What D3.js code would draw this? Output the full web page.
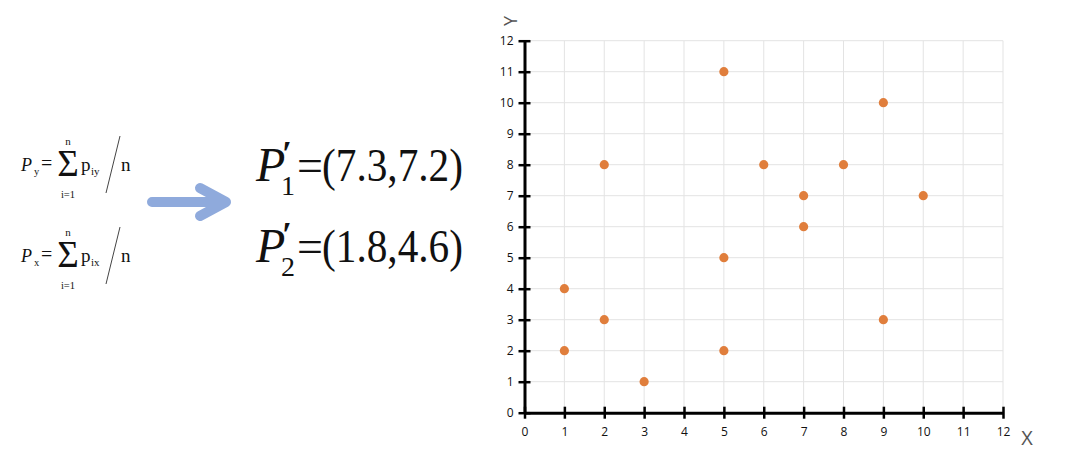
<!DOCTYPE html>
<html>
<head>
<meta charset="utf-8">
<script src="https://cdn.jsdelivr.net/npm/d3@7"></script>
<style>
  html, body { margin: 0; padding: 0; background: #fff; }
  svg { display: block; }
</style>
</head>
<body>
<svg id="chart" width="1066" height="466"></svg>
<script>
// ---- data ----
const pointsX = [1, 1, 2, 2, 3, 5, 5, 5, 6, 7, 7, 8, 9, 9, 10];
const pointsY = [2, 4, 3, 8, 1, 2, 5, 11, 8, 7, 6, 8, 10, 3, 7];
const xTicks = [0, 1, 2, 3, 4, 5, 6, 7, 8, 9, 10, 11, 12];
const yTicks = [0, 1, 2, 3, 4, 5, 6, 7, 8, 9, 10, 11, 12];
const centroidLabels = ["1", "2"];
const centroidValues = ["(7.3,7.2)", "(1.8,4.6)"];
const formulaVars = ["y", "x"];

const svg = d3.select("#chart");
const serif = "'Liberation Serif', 'Times New Roman', serif";
const sans = "'Open Sans', 'Liberation Sans', sans-serif";

// ---- left formulas ----
formulaVars.forEach((v, i) => {
  const by = 171 + i * 91;
  const g = svg.append("g").attr("font-family", serif).attr("fill", "#111");
  g.append("text").attr("x", 21).attr("y", by).attr("font-size", 18).attr("font-style", "italic").text("P");
  g.append("text").attr("x", 34).attr("y", by + 4).attr("font-size", 10.5).text(v);
  g.append("text").attr("x", 41).attr("y", by - 1).attr("font-size", 20).text("=");
  g.append("text").attr("x", 68).attr("y", by + 5).attr("font-size", 37).attr("text-anchor", "middle").text("Σ");
  g.append("text").attr("x", 68).attr("y", by - 26).attr("font-size", 11).attr("text-anchor", "middle").text("n");
  g.append("text").attr("x", 68).attr("y", by + 27).attr("font-size", 10.5).attr("text-anchor", "middle").text("i=1");
  g.append("text").attr("x", 81).attr("y", by).attr("font-size", 19).text("p");
  g.append("text").attr("x", 91).attr("y", by + 4).attr("font-size", 11).text("i" + v);
  g.append("line").attr("x1", 106).attr("y1", by + 22).attr("x2", 120).attr("y2", by - 35)
    .attr("stroke", "#444").attr("stroke-width", 1);
  g.append("text").attr("x", 121).attr("y", by).attr("font-size", 19).text("n");
});

// ---- arrow ----
svg.append("path")
  .attr("d", "M152,202 L226,202 M200,188 L226,202 L200,216")
  .attr("fill", "none")
  .attr("stroke", "#8faadc")
  .attr("stroke-width", 10)
  .attr("stroke-linecap", "round")
  .attr("stroke-linejoin", "round");

// ---- centroid formulas ----
centroidLabels.forEach((lab, i) => {
  const by = 181 + i * 81;
  const g = svg.append("g").attr("font-family", serif).attr("fill", "#111");
  g.append("text").attr("x", 256).attr("y", by).attr("font-size", 48).attr("font-style", "italic").text("P");
  g.append("text").attr("x", 282).attr("y", by - 15).attr("font-size", 36).attr("font-weight", "bold").text("′");
  g.append("text").attr("x", 281).attr("y", by + 14).attr("font-size", 28).text(lab);
  g.append("text").attr("x", 297).attr("y", by).attr("font-size", 46).text("=");
  g.append("text").attr("x", 322).attr("y", by).attr("font-size", 46)
    .attr("textLength", 141).attr("lengthAdjust", "spacingAndGlyphs").text(centroidValues[i]);
});

// ---- scatter chart ----
const x = d3.scaleLinear().domain([0, 12]).range([524.5, 1003]);
const y = d3.scaleLinear().domain([0, 12]).range([412.7, 40.7]);

// grid
const grid = svg.append("g").attr("stroke", "#e3e3e3").attr("stroke-width", 1);
grid.selectAll("line.v").data(xTicks.slice(1)).join("line")
  .attr("x1", d => x(d)).attr("x2", d => x(d))
  .attr("y1", y(0)).attr("y2", y(12));
grid.selectAll("line.h").data(yTicks.slice(1)).join("line")
  .attr("x1", x(0)).attr("x2", x(12))
  .attr("y1", d => y(d)).attr("y2", d => y(d));

// axes
const xAxis = d3.axisBottom(x).tickValues(xTicks).tickSizeInner(6).tickSizeOuter(0).tickPadding(9);
const yAxis = d3.axisLeft(y).tickValues(yTicks).tickSizeInner(6).tickSizeOuter(0).tickPadding(5);

const gx = svg.append("g").attr("transform", `translate(0,${y(0)})`).call(xAxis);
const gy = svg.append("g").attr("transform", `translate(${x(0)},0)`).call(yAxis);

[gx, gy].forEach(g => {
  g.select(".domain").attr("stroke", "#000").attr("stroke-width", 3);
  g.selectAll(".tick line").attr("stroke", "#000").attr("stroke-width", 2.5);
  g.selectAll(".tick text").attr("font-family", sans).attr("font-size", 12).attr("fill", "#111");
});
// ticks cross the axis on both sides
gx.selectAll(".tick line").attr("y1", -6).attr("y2", 6);
gy.selectAll(".tick line").attr("x1", -6).attr("x2", 6);

// points
svg.append("g").selectAll("circle").data(pointsX).join("circle")
  .attr("cx", d => x(d))
  .attr("cy", (d, i) => y(pointsY[i]))
  .attr("r", 4.6)
  .attr("fill", "#e07e3c");

// axis titles
svg.append("text").attr("x", 1027).attr("y", 445).attr("text-anchor", "middle")
  .attr("font-family", sans).attr("font-size", 20).attr("fill", "#555").text("X");
svg.append("text").attr("transform", "translate(517,21) rotate(-90)").attr("text-anchor", "middle")
  .attr("font-family", sans).attr("font-size", 18).attr("fill", "#555").text("Y");
</script>
</body>
</html>
